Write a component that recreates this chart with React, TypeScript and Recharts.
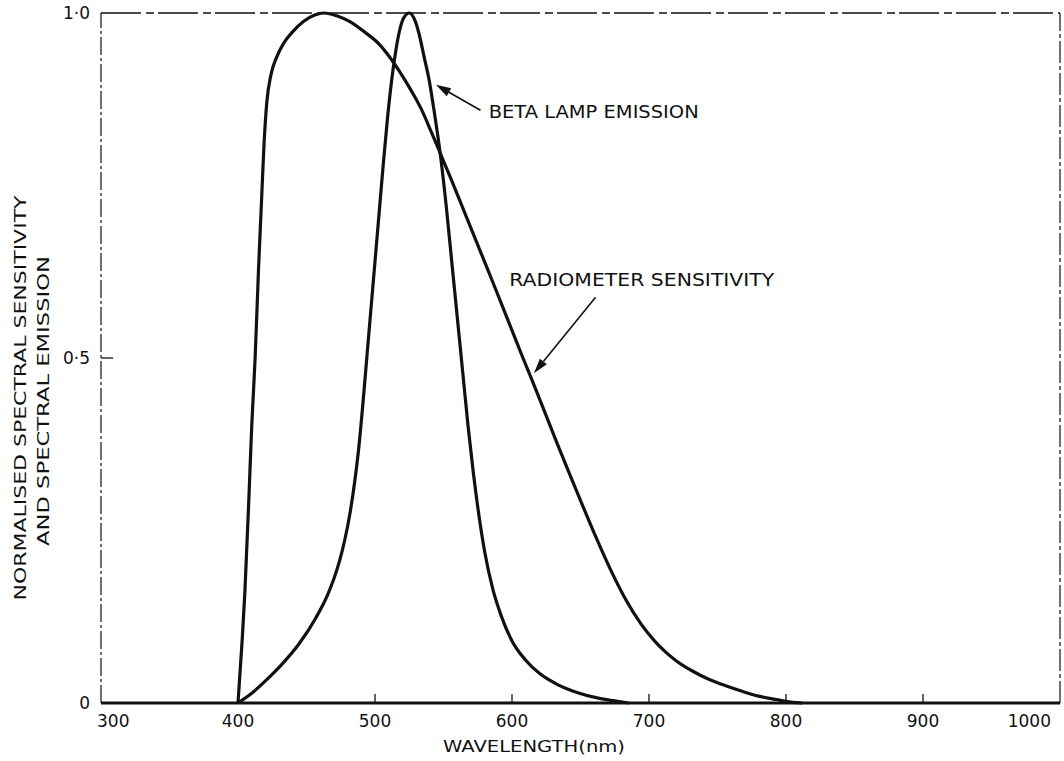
import {
  LineChart,
  Line,
  XAxis,
  YAxis,
  ReferenceLine,
  ReferenceDot,
  Label,
} from "recharts";

// Radiometer sensitivity curve
const RADIOMETER_NM = [
  400, 403, 405, 408, 410, 412.5, 415, 417, 419, 421, 424, 428, 433, 440, 448,
  456, 463, 472, 482, 492, 503, 510, 518, 526, 534, 541, 548, 556, 565, 576,
  588, 600, 608, 615, 625, 633, 642, 652, 662, 672, 683, 694, 704, 712, 720,
  732, 744, 756, 768, 780, 793, 805, 812,
];
const RADIOMETER_VAL = [
  0, 0.09, 0.16, 0.3, 0.4, 0.5, 0.63, 0.72, 0.81, 0.87, 0.91, 0.935, 0.955,
  0.973, 0.988, 0.997, 1.0, 0.996, 0.987, 0.973, 0.955, 0.938, 0.915, 0.889,
  0.86, 0.828, 0.795, 0.757, 0.713, 0.659, 0.6, 0.54, 0.5, 0.466, 0.416,
  0.376, 0.332, 0.284, 0.237, 0.193, 0.15, 0.115, 0.09, 0.074, 0.061, 0.046,
  0.034, 0.025, 0.017, 0.01, 0.005, 0.001, 0,
];

// Beta lamp emission curve
const BETA_NM = [
  400, 410, 420, 432, 445, 457, 465, 470, 474, 478, 482, 485, 488, 491, 494,
  497, 500, 503, 506, 509, 512, 515, 518, 521, 525, 529, 532, 536, 539.5, 543,
  548, 552, 556, 560, 564, 568, 572, 576, 580, 586, 592, 600, 610, 620, 634,
  648, 663, 675, 685,
];
const BETA_VAL = [
  0, 0.014, 0.032, 0.056, 0.087, 0.124, 0.155, 0.18, 0.205, 0.237, 0.278,
  0.318, 0.367, 0.43, 0.5, 0.57, 0.64, 0.71, 0.78, 0.845, 0.9, 0.943, 0.975,
  0.993, 1.0, 0.99, 0.971, 0.935, 0.903, 0.86, 0.79, 0.72, 0.64, 0.56, 0.48,
  0.4, 0.33, 0.27, 0.22, 0.165, 0.127, 0.09, 0.062, 0.043, 0.026, 0.015,
  0.007, 0.003, 0,
];

const X_TICKS = [300, 400, 500, 600, 700, 800, 900, 1000];
const Y_TICKS = [0, 0.5, 1];
const Y_TICK_LABELS = ["0", "0·5", "1·0"];

const radiometer = RADIOMETER_NM.map((nm, i) => ({ nm, v: RADIOMETER_VAL[i] }));
const beta = BETA_NM.map((nm, i) => ({ nm, v: BETA_VAL[i] }));

const INK = "#111";
const FONT = "'DejaVu Sans', sans-serif";

function XTick(props: any) {
  const { x, y, payload } = props;
  const val = payload.value as number;
  const edge = val === 300 || val === 1000;
  let anchor: "start" | "middle" | "end" = "middle";
  let tx = x;
  if (val === 300) {
    anchor = "start";
    tx = x - 4;
  } else if (val === 1000) {
    anchor = "end";
    tx = x + 3;
  }
  return (
    <g>
      {!edge && <line x1={x} y1={y} x2={x} y2={y - 9} stroke={INK} strokeWidth={1.3} />}
      <text x={tx} y={y + 24} textAnchor={anchor} fontSize={17} fontFamily={FONT} fill={INK}>
        {val}
      </text>
    </g>
  );
}

function YTick(props: any) {
  const { x, y, payload } = props;
  const i = Y_TICKS.indexOf(payload.value);
  return (
    <g>
      {payload.value === 0.5 && (
        <line x1={x} y1={y} x2={x + 12} y2={y} stroke={INK} strokeWidth={1.3} />
      )}
      <text x={x - 11} y={y + 6} textAnchor="end" fontSize={17} fontFamily={FONT} fill={INK}>
        {Y_TICK_LABELS[i]}
      </text>
    </g>
  );
}

function Arrow(props: any) {
  const { x1, y1, x2, y2 } = props;
  const ang = Math.atan2(y2 - y1, x2 - x1);
  const len = 15;
  const half = 4.5;
  const bx = x2 - len * Math.cos(ang);
  const by = y2 - len * Math.sin(ang);
  const px = -Math.sin(ang) * half;
  const py = Math.cos(ang) * half;
  return (
    <g>
      <line x1={x1} y1={y1} x2={bx} y2={by} stroke={INK} strokeWidth={1.6} />
      <polygon points={`${x2},${y2} ${bx + px},${by + py} ${bx - px},${by - py}`} fill={INK} />
    </g>
  );
}

function note(text: string, width: number) {
  return (p: any) => (
    <text
      x={p.cx}
      y={p.cy}
      dominantBaseline="central"
      fontSize={18}
      fontFamily={FONT}
      fill={INK}
      textLength={width}
      lengthAdjust="spacingAndGlyphs"
    >
      {text}
    </text>
  );
}

export default function App() {
  return (
    <div style={{ position: "absolute", left: 0, top: 0, width: 1064, height: 761, background: "#fff" }}>
      <LineChart
        width={1064}
        height={761}
        margin={{ top: 13, right: 4, bottom: 28, left: 11 }}
      >
        <XAxis
          dataKey="nm"
          type="number"
          domain={[300, 1000]}
          ticks={X_TICKS}
          allowDataOverflow
          height={30}
          tickSize={0}
          tickMargin={0}
          tickLine={false}
          tick={<XTick />}
          axisLine={{ stroke: INK, strokeWidth: 3 }}
        >
          <Label
            content={() => (
              <text
                x={443}
                y={752}
                fontSize={16}
                fontFamily={FONT}
                fill={INK}
                textLength={182}
                lengthAdjust="spacingAndGlyphs"
              >
                WAVELENGTH(nm)
              </text>
            )}
          />
        </XAxis>
        <YAxis
          type="number"
          domain={[0, 1]}
          ticks={Y_TICKS}
          width={90}
          tickSize={0}
          tickMargin={0}
          tickLine={false}
          axisLine={false}
          tick={<YTick />}
        >
          <Label
            content={() => (
              <g fontSize={16} fontFamily={FONT} fill={INK}>
                <text
                  transform="translate(26,398) rotate(-90)"
                  textAnchor="middle"
                  textLength={405}
                  lengthAdjust="spacingAndGlyphs"
                >
                  NORMALISED SPECTRAL SENSITIVITY
                </text>
                <text
                  transform="translate(49,401) rotate(-90)"
                  textAnchor="middle"
                  textLength={290}
                  lengthAdjust="spacingAndGlyphs"
                >
                  AND SPECTRAL EMISSION
                </text>
              </g>
            )}
          />
        </YAxis>

        {/* broken frame lines of the original scan */}
        <ReferenceLine x={300} stroke={INK} strokeWidth={1.2} strokeDasharray="18 3 3 3" />
        <ReferenceLine y={1} stroke={INK} strokeWidth={1.3} strokeDasharray="40 5 8 4" />
        <ReferenceLine x={1000} stroke={INK} strokeWidth={1.2} strokeDasharray="22 3 4 3" />

        <Line
          data={radiometer}
          dataKey="v"
          type="monotone"
          stroke={INK}
          strokeWidth={3.2}
          dot={false}
          isAnimationActive={false}
        />
        <Line
          data={beta}
          dataKey="v"
          type="monotone"
          stroke={INK}
          strokeWidth={3.2}
          dot={false}
          isAnimationActive={false}
        />

        <ReferenceLine
          segment={[
            { x: 577, y: 0.859 },
            { x: 544.5, y: 0.896 },
          ]}
          shape={Arrow}
        />
        <ReferenceLine
          segment={[
            { x: 661, y: 0.588 },
            { x: 616, y: 0.478 },
          ]}
          shape={Arrow}
        />
        <ReferenceDot x={583} y={0.857} r={0} shape={note("BETA LAMP EMISSION", 210)} />
        <ReferenceDot x={598} y={0.614} r={0} shape={note("RADIOMETER SENSITIVITY", 265)} />
      </LineChart>
    </div>
  );
}
